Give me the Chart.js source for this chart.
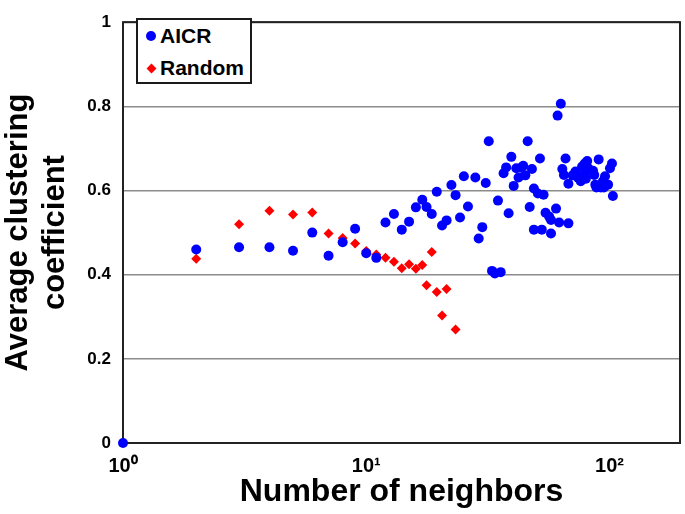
<!DOCTYPE html>
<html>
<head>
<meta charset="utf-8">
<script src="https://cdn.jsdelivr.net/npm/chart.js@4.4.1/dist/chart.umd.min.js"></script>
<style>
  html, body { margin: 0; padding: 0; background: #fff; }
  #wrap { position: relative; width: 685px; height: 514px; }
  #legend {
    position: absolute; left: 136px; top: 18px; width: 112px; height: 62px;
    border: 2px solid #1a1a1a; background: #fff;
    font: bold 21px "Liberation Sans", Arial, sans-serif; color: #000;
  }
  .item { position: absolute; left: 0; height: 24px; line-height: 24px; }
  .item span { position: absolute; left: 22px; white-space: nowrap; }
  .dot { position: absolute; left: 8px; top: 7px; width: 10px; height: 10px; border-radius: 50%; background: #0000ff; }
  .dia { position: absolute; left: 10px; top: 9px; width: 7px; height: 7px; background: #ff0000; transform: rotate(45deg); }
</style>
</head>
<body>
<div id="wrap">
  <canvas id="chart" width="685" height="514"></canvas>
  <div id="legend">
    <div class="item" style="top:4px"><i class="dot"></i><span>AICR</span></div>
    <div class="item" style="top:36px"><i class="dia"></i><span>Random</span></div>
  </div>
</div>
<script>
// AICR series (number of neighbors, average clustering coefficient)
const aicrNeighbors = [1, 2, 3, 4, 5, 6, 7, 8, 9, 10, 11, 12, 13, 14, 15, 16, 17, 17.7, 18.6, 19.5,
  20.5, 21.4, 22.4, 23.3, 24.3, 25.2, 26.2, 28.1, 29, 30, 31, 31.9, 32.9, 33.8, 34.8, 35.7,
  36.7, 37.6, 38.5, 39.5, 40.4, 41.4, 42.3, 43.3, 44.2, 45.1, 46.1, 47, 48, 48.9, 48.9, 50.8,
  51.8, 52.7, 53.6, 54.6, 56.5, 57.5, 57.5, 60.3, 61.2, 62.1, 63.1, 64, 65, 66, 67.8, 67.8,
  70.6, 72.5, 74.4, 76.2, 77.2, 78.1, 79.1, 80, 81, 81.9, 83.8, 85.6, 86.6, 87.5, 88.4, 90.3,
  92.2, 94, 94.9, 95.9, 98.7, 100.5, 102.4, 103.3];
const aicrCoeff = [0, 0.46, 0.465, 0.465, 0.457, 0.5, 0.445, 0.477, 0.509, 0.451, 0.44, 0.524, 0.544, 0.507, 0.526, 0.56, 0.578, 0.561, 0.544, 0.597,
  0.517, 0.529, 0.613, 0.589, 0.536, 0.634, 0.562, 0.631, 0.486, 0.513, 0.618, 0.717, 0.409, 0.403, 0.576, 0.406,
  0.641, 0.655, 0.546, 0.68, 0.611, 0.653, 0.631, 0.654, 0.659, 0.636, 0.717, 0.561, 0.651, 0.507, 0.605, 0.593,
  0.676, 0.507, 0.59, 0.547, 0.538, 0.53, 0.498, 0.557, 0.778, 0.524, 0.806, 0.651, 0.637, 0.676, 0.616, 0.522,
  0.636, 0.645, 0.63, 0.622, 0.657, 0.636, 0.664, 0.628, 0.67, 0.653, 0.647, 0.647, 0.637, 0.614, 0.607, 0.674,
  0.607, 0.622, 0.607, 0.634, 0.614, 0.653, 0.664, 0.587];

// Random series
const randomNeighbors = [2, 3, 4, 5, 6, 7, 8, 9, 10, 11, 12, 13, 14, 15, 16, 17, 17.7, 18.6, 19.5, 20.5, 21.4, 23.3];
const randomCoeff = [0.438, 0.52, 0.552, 0.543, 0.548, 0.498, 0.487, 0.474, 0.456, 0.448, 0.44, 0.431, 0.415, 0.425,
  0.414, 0.423, 0.375, 0.454, 0.359, 0.303, 0.366, 0.27];

const xTicks = [1, 10, 100];
const xTickLabels = ["10\u2070", "10\u00b9", "10\u00b2"];
const yTicks = [0, 0.2, 0.4, 0.6, 0.8, 1];

const toPoints = (xs, ys) => xs.map((x, i) => ({ x: x, y: ys[i] }));

const font = "'Liberation Sans', Arial, sans-serif";

// draws the dark box round the plot area
const frame = {
  id: "frame",
  beforeDatasetsDraw(chart) {
    const a = chart.chartArea;
    const c = chart.ctx;
    c.save();
    c.strokeStyle = "#222";
    c.lineWidth = 2;
    c.strokeRect(a.left, a.top, a.right - a.left, a.bottom - a.top);
    c.restore();
  }
};

new Chart(document.getElementById("chart"), {
  type: "scatter",
  data: {
    datasets: [
      {
        label: "AICR",
        data: toPoints(aicrNeighbors, aicrCoeff),
        pointStyle: "circle",
        pointRadius: 5,
        backgroundColor: "#0000ff",
        borderColor: "#0000ff",
        borderWidth: 0,
        clip: false
      },
      {
        label: "Random",
        data: toPoints(randomNeighbors, randomCoeff),
        pointStyle: "rectRot",
        pointRadius: 5,
        backgroundColor: "#ff0000",
        borderColor: "#ff0000",
        borderWidth: 0,
        clip: false
      }
    ]
  },
  options: {
    responsive: false,
    animation: false,
    layout: { padding: { top: 11, right: 3, left: 0, bottom: 0 } },
    plugins: {
      legend: { display: false },
      tooltip: { enabled: false }
    },
    scales: {
      x: {
        type: "logarithmic",
        min: 1,
        max: 195,
        afterBuildTicks(scale) {
          scale.ticks = xTicks.map(v => ({ value: v }));
        },
        afterFit(scale) { scale.height = 71; },
        grid: { display: false },
        border: { display: false },
        ticks: {
          padding: 3,
          color: "#000",
          font: { family: font, size: 20, weight: "bold" },
          callback: (v) => xTickLabels[xTicks.indexOf(v)] || ""
        },
        title: {
          display: true,
          text: "Number of neighbors",
          color: "#000",
          font: { family: font, size: 32, weight: "bold" },
          padding: { top: 0, bottom: 3 }
        }
      },
      y: {
        min: 0,
        max: 1,
        afterBuildTicks(scale) {
          scale.ticks = yTicks.map(v => ({ value: v }));
        },
        afterFit(scale) { scale.width = 123; },
        grid: { color: "#8c8c8c", lineWidth: 1.5, drawTicks: false },
        border: { display: false },
        ticks: {
          padding: 12,
          color: "#000",
          font: { family: font, size: 17, weight: "bold" },
          callback: (v) => String(v)
        },
        title: {
          display: true,
          text: ["Average clustering", "coefficient"],
          color: "#000",
          font: { family: font, size: 31, weight: "bold", lineHeight: 1.2 },
          padding: { top: 0, bottom: 0 }
        }
      }
    }
  },
  plugins: [frame]
});
</script>
</body>
</html>
